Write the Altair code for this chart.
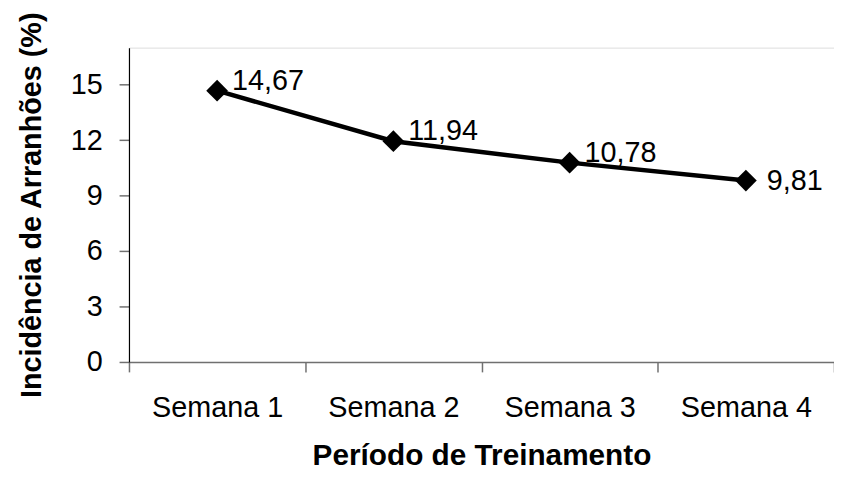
import altair as alt
import pandas as pd

categories = ["Semana 1", "Semana 2", "Semana 3", "Semana 4"]
values = [14.67, 11.94, 10.78, 9.81]
value_labels = ["14,67", "11,94", "10,78", "9,81"]
y_ticks = [0, 3, 6, 9, 12, 15]

df = pd.DataFrame({
    "semana": categories,
    "valor": values,
    "rotulo": value_labels,
    "pos": [i + 0.5 for i in range(len(categories))],
})

FONT = "Liberation Sans"
W, H = 711, 317

label_expr = "[" + ",".join(f"'{c}'" for c in categories) + "][datum.value] || ''"

x = alt.X(
    "pos:Q",
    scale=alt.Scale(domain=[0, len(categories)], nice=False, zero=False),
    axis=alt.Axis(
        values=list(range(len(categories) + 1)),
        labelExpr=label_expr,
        labelOffset=W / len(categories) / 2,
        labelFlush=False,
        labelOverlap=False,
        labelFont=FONT, labelFontSize=29, labelColor="black",
        labelPadding=22, labelBaseline="top",
        tickSize=10, tickColor="#707070", tickWidth=1.5,
        domainColor="#707070", domainWidth=1.5,
        grid=False,
        title="Período de Treinamento",
        titleFont=FONT, titleFontSize=30, titleFontWeight="bold", titleColor="black",
        titlePadding=18,
    ),
)
y = alt.Y(
    "valor:Q",
    scale=alt.Scale(domain=[0, 17], nice=False),
    axis=alt.Axis(
        values=y_ticks,
        labelFont=FONT, labelFontSize=29, labelColor="black",
        labelPadding=17,
        tickSize=10, tickColor="#707070", tickWidth=1.5,
        domainColor="black", domainWidth=1.2,
        grid=False,
        title="Incidência de Arranhões (%)",
        titleFont=FONT, titleFontSize=29, titleFontWeight="bold", titleColor="black",
        titlePadding=24,
    ),
)

base = alt.Chart(df).encode(x=x, y=y)

line = base.mark_line(color="black", strokeWidth=4.5)
points = base.mark_point(shape="diamond", filled=True, color="black", size=480, opacity=1)
labels_top = base.transform_filter(
    alt.FieldOneOfPredicate(field="semana", oneOf=categories[:-1])
).mark_text(
    align="left", baseline="alphabetic", dx=15, dy=-1,
    font=FONT, fontSize=29, color="black"
).encode(text="rotulo:N")
labels_last = base.transform_filter(
    alt.FieldEqualPredicate(field="semana", equal=categories[-1])
).mark_text(
    align="left", baseline="middle", dx=21, dy=1,
    font=FONT, fontSize=29, color="black"
).encode(text="rotulo:N")

chart = alt.layer(line, points, labels_top, labels_last).properties(
    width=W, height=H,
    autosize=alt.AutoSizeParams(type="none"),
    padding={"left": 122, "top": 38, "right": 0, "bottom": 109},
).configure_view(stroke=None).configure(background="white")

chart.save("out.html", embed_options={"renderer": "svg", "actions": False})
